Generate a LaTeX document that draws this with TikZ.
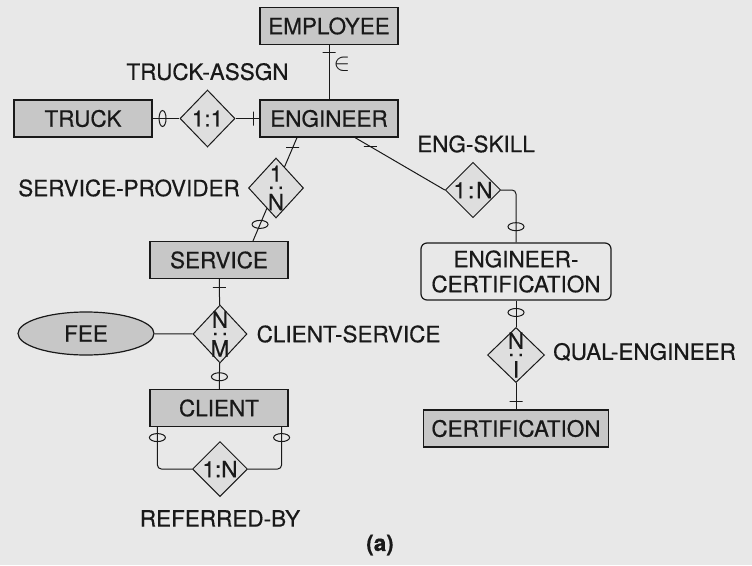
\documentclass[tikz,border=0pt]{standalone}
\usepackage{fontspec}
\setmainfont{TeX Gyre Heros}[FakeBold=0.5]
\usepackage{graphicx}
\usetikzlibrary{positioning,shapes.geometric,calc}

\definecolor{paper}{gray}{0.91}
\definecolor{entfill}{gray}{0.78}
\definecolor{relfill}{gray}{0.87}
\definecolor{ink}{gray}{0.1}

\begin{document}
\begin{tikzpicture}[x=1pt, y=-1pt, font=\fontsize{22.5}{25}\selectfont, text=ink,
    every node/.style={inner sep=2pt},
    ent/.style={draw=ink, line width=1.2pt, fill=entfill, minimum width=138pt, minimum height=37pt, inner xsep=8pt},
    rel/.style={diamond, draw=ink, line width=1pt, fill=relfill, minimum width=55pt, minimum height=57pt, inner sep=0pt},
    conn/.style={draw=ink, line width=1pt},
    oneh/.style={draw=ink, line width=1pt, minimum width=13pt, minimum height=0pt, inner sep=0pt},
    onev/.style={draw=ink, line width=1pt, minimum width=0pt, minimum height=14pt, inner sep=0pt},
    zeroh/.style={ellipse, draw=ink, line width=1pt, minimum width=16pt, minimum height=8pt, inner sep=0pt},
    zerov/.style={ellipse, draw=ink, line width=1pt, minimum width=7pt, minimum height=16pt, inner sep=0pt}]

    \fill[paper] (0,0) rectangle (752,565);
    \useasboundingbox (0,0) rectangle (752,565);

    % entities
    \node[ent] (employee) at (329,26) {EMPLOYEE};
    \node[ent] (engineer) at (329,118.5) {ENGINEER};
    \node[ent] (truck) at (83,118.5) {TRUCK};
    \node[ent] (service) at (219,260) {SERVICE};
    \node[ent] (client) at (219,408) {CLIENT};
    \node[ent] (certification) at (516,428.5) {CERTIFICATION};
    \node[draw=ink, line width=1.2pt, rounded corners=6pt, align=center, minimum width=190pt, minimum height=57pt] (engcert) at (516,271.5) {ENGINEER-\\CERTIFICATION};
    \node[ellipse, draw=ink, line width=1.2pt, fill=entfill, minimum width=136pt, minimum height=43pt] (fee) at (86,333.5) {FEE};

    % goes under the SERVICE-PROVIDER diamond
    \draw[conn] ($(engineer.south)+(-32,0)$) -- node[pos=.1, oneh] (t3) {} node[pos=.84, zeroh] (z3) {} ($(service.north)+(34,0)$);

    % relationships
    \node[rel] (truckassgn) at (207.5,118.5) {1:1};
    \node[rel, minimum width=54pt, minimum height=54pt] (engskill) at (473,190) {1\kern2pt:\kern2pt N};
    \node[rel, minimum height=60pt] (srvprov) at (276,188) {};
    \node (srvprovtxt) at (srvprov) {\shortstack{1\\\rotatebox{90}{:}\\N}};
    \node[rel, minimum width=54pt, minimum height=58pt] (clsvc) at (220,334) {};
    \node (clsvctxt) at (clsvc) {\shortstack{N\\\rotatebox{90}{:}\\M}};
    \node[rel, minimum width=57pt, minimum height=55pt] (qualeng) at (516,355) {};
    \node (qualengtxt) at (qualeng) {\shortstack{N\\\rotatebox{90}{:}\\I}};
    \node[rel, minimum height=55pt] (refby) at (220,469) {1:N};

    \node[above=7pt of truckassgn] (truckassgnlbl) {TRUCK-ASSGN};
    \node[above=7pt of engskill, xshift=3pt] (engskilllbl) {ENG-SKILL};
    \node[left=6pt of srvprov] (srvprovlbl) {SERVICE-PROVIDER};
    \node[right=7pt of clsvc] (clsvclbl) {CLIENT-SERVICE};
    \node[right=6pt of qualeng, yshift=3pt] (qualenglbl) {QUAL-ENGINEER};
    \node[below=11pt of refby] (refbylbl) {REFERRED-BY};
    \node[font=\fontsize{22.5}{25}\selectfont\bfseries] (caption) at (380,545) {(a)};

    % connectors
    \draw[conn] (employee) -- node[pos=.14, oneh] (t1) {} node[pos=.36, right=2pt, font=\fontsize{30}{30}\selectfont] (isa) {$\in$} (engineer);
    \draw[conn] (truck) -- node[pos=.37, zerov] (z1) {} (truckassgn);
    \draw[conn] (truckassgn) -- node[pos=.76, onev] (t2) {} (engineer);
    \draw[conn] ($(engineer.south)+(26,0)$) -- node[pos=.17, oneh] (t4) {} (engskill.west);
    \draw[conn, rounded corners=4pt] (engskill.east) -| node[pos=.85, zeroh] (z4) {} (engcert.north);
    \draw[conn] (engcert) -- node[pos=.45, zeroh] (z5) {} (qualeng);
    \draw[conn] (qualeng) -- node[pos=.71, oneh] (t5) {} (certification);
    \draw[conn] (service) -- node[pos=.33, oneh] (t6) {} (clsvc);
    \draw[conn] (clsvc) -- node[pos=.53, zeroh] (z6) {} (client);
    \draw[conn] (fee) -- (clsvc);
    \draw[conn, rounded corners=4pt] ($(client.south west)+(8,0)$) |- node[pos=.125, zeroh] (z7) {} (refby.west);
    \draw[conn, rounded corners=4pt] ($(client.south east)+(-7,0)$) |- node[pos=.125, zeroh] (z8) {} (refby.east);
\end{tikzpicture}
\end{document}
